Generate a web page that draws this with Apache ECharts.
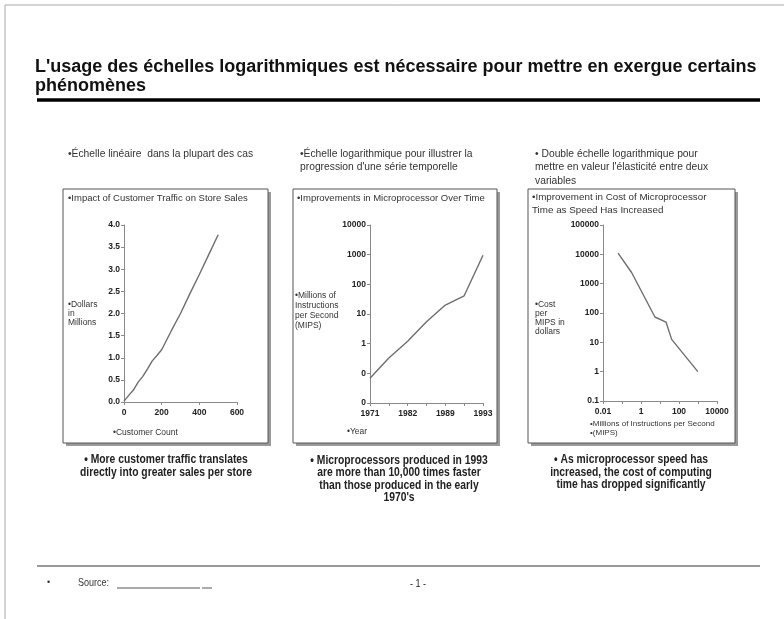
<!DOCTYPE html>
<html>
<head>
<meta charset="utf-8">
<script src="https://cdn.jsdelivr.net/npm/echarts@6/dist/echarts.min.js"></script>
<style>
html,body{margin:0;padding:0;background:#fff;}
#main{width:784px;height:619px;}
</style>
</head>
<body>
<div id="main"></div>
<script>
// ---- Data ----
// Chart 1: customer traffic vs store sales (linear)
const trafficCount = [0, 25, 50, 75, 100, 125, 150, 175, 200, 250, 300, 350, 400, 450, 500];
const salesMillions = [0.02, 0.15, 0.27, 0.45, 0.58, 0.75, 0.93, 1.05, 1.18, 1.6, 2.0, 2.45, 2.88, 3.33, 3.78];
// Chart 2: MIPS over time (log y)
const years = ['1971', '1978', '1982', '1985', '1989', '1991', '1993'];
const mips = [0.068, 0.33, 1.2, 5.5, 20, 41, 950];
// Chart 3: cost per MIPS vs MIPS (log-log)
const speedMips = [0.062, 0.32, 5.4, 20.7, 41, 980];
const costPerMips = [11000, 2400, 73, 49, 12.6, 1];

const chart1Ticks = ['0.0','0.5','1.0','1.5','2.0','2.5','3.0','3.5','4.0'];

const FONT = '"Liberation Sans", Arial, sans-serif';
const axisCol = '#8a8a8a';
const lineCol = '#6e6e6e';
const labelStyle = {fontFamily: FONT, fontWeight: 'bold', fontSize: 8.5, color: '#222'};

function txt(text, x, y, opts) {
  opts = opts || {};
  const el = {
    type: 'text', z: 20,
    style: {
      text: text, x: x, y: y,
      font: (opts.weight || 'normal') + ' ' + (opts.size || 9) + 'px ' + FONT,
      fill: opts.fill || '#333',
      textAlign: opts.align || 'left',
      textVerticalAlign: 'middle',
      lineHeight: opts.lh || 10
    }
  };
  if (opts.sx) { el.scaleX = opts.sx; el.originX = x; el.originY = y; el.origin = [x, y]; }
  return el;
}
function hline(x1, x2, y, w, c) {
  return {type: 'line', z: 1, shape: {x1: x1, y1: y, x2: x2, y2: y}, style: {stroke: c, lineWidth: w}};
}
function box(x, y, w, h) {
  return [
    {type: 'rect', z: 0, shape: {x: x + 3, y: y + 3, width: w, height: h}, style: {fill: '#9a9a9a'}},
    {type: 'rect', z: 1, shape: {x: x, y: y, width: w, height: h}, style: {fill: '#fff', stroke: '#555', lineWidth: 1}}
  ];
}

const capOpts = {size: 12, weight: 'bold', fill: '#222', align: 'center', sx: 0.86};

const graphics = [].concat(
  [
    {type: 'line', z: 1, shape: {x1: 5, y1: 5, x2: 784, y2: 5}, style: {stroke: '#aaa', lineWidth: 1}},
    {type: 'line', z: 1, shape: {x1: 5, y1: 5, x2: 5, y2: 619}, style: {stroke: '#aaa', lineWidth: 1}},
    txt("L'usage des échelles logarithmiques est nécessaire pour mettre en exergue certains\nphénomènes", 35, 77,
        {size: 18, weight: 'bold', fill: '#111', lh: 19}),
    hline(37, 760, 100, 3.5, '#000'),
    txt('•Échelle linéaire  dans la plupart des cas', 68, 154, {size: 10.3}),
    txt('•Échelle logarithmique pour illustrer la\nprogression d\'une série temporelle', 300, 160.5, {size: 10.3, lh: 13}),
    txt('• Double échelle logarithmique pour\nmettre en valeur l\'élasticité entre deux\nvariables', 535, 167.5, {size: 10.3, lh: 13.5})
  ],
  box(63, 189, 205, 254),
  box(293, 189, 204, 254),
  box(528, 189, 207, 254),
  [
    txt('•Impact of Customer Traffic on Store Sales', 68, 198, {size: 9.5}),
    txt('•Dollars\nin\nMillions', 68, 314, {size: 8.5, lh: 9}),
    txt('•Customer Count', 113, 433, {size: 8.5}),
    txt('•Improvements in Microprocessor Over Time', 297, 198, {size: 9.5}),
    txt('•Millions of\nInstructions\nper Second\n(MIPS)', 295, 311, {size: 8.5, lh: 10}),
    txt('•Year', 347, 432, {size: 8.5}),
    txt('•Improvement in Cost of Microprocessor\nTime as Speed Has Increased', 532, 204, {size: 9.8, lh: 12.5}),
    txt('•Cost\nper\nMIPS in\ndollars', 535, 318, {size: 8.5, lh: 9}),
    txt('•Millions of Instructions per Second\n•(MIPS)', 590, 428.5, {size: 8, lh: 9}),
    txt('• More customer traffic translates\ndirectly into greater sales per store', 166, 466.5, Object.assign({lh: 13}, capOpts)),
    txt('• Microprocessors produced in 1993\nare more than 10,000 times faster\nthan those produced in the early\n1970\'s', 399, 479,
        Object.assign({lh: 12.5}, capOpts)),
    txt('• As microprocessor speed has\nincreased, the cost of computing\ntime has dropped significantly', 631, 472.5,
        Object.assign({lh: 12.5}, capOpts)),
    hline(37, 760, 566, 2, '#999'),
    txt('•', 47, 583, {size: 9}),
    txt('Source:', 78, 583, {size: 10.5, sx: 0.86}),
    hline(117, 200, 588, 1, '#555'),
    hline(202, 212, 588, 1, '#555'),
    txt('- 1 -', 418, 584, {size: 10.5, align: 'center', fill: '#222', sx: 0.86})
  ]
);

function baseAxis(extra) {
  return Object.assign({
    z: 10,
    axisLine: {show: true, lineStyle: {color: axisCol, width: 1}},
    axisTick: {show: true, length: 3, lineStyle: {color: axisCol}},
    splitLine: {show: false},
    axisLabel: Object.assign({margin: 4}, labelStyle)
  }, extra);
}
function fmtNum(v) { return String(parseFloat(Number(v).toPrecision(6))); }

const option = {
  animation: false,
  backgroundColor: '#fff',
  graphic: {elements: graphics},
  grid: [
    {left: 124, top: 225, width: 113, height: 177},
    {left: 370, top: 225, width: 113, height: 178},
    {left: 603, top: 225, width: 114, height: 176}
  ],
  xAxis: [
    baseAxis({gridIndex: 0, type: 'value', min: 0, max: 600, interval: 200,
      axisLabel: Object.assign({margin: 6}, labelStyle)}),
    baseAxis({gridIndex: 1, type: 'category', data: years, boundaryGap: false,
      axisTick: {show: true, length: 3, interval: 0, lineStyle: {color: axisCol}},
      axisLabel: Object.assign({margin: 6, interval: 1}, labelStyle)}),
    baseAxis({gridIndex: 2, type: 'log', logBase: 10, min: 0.01, max: 10000,
      axisLabel: Object.assign({margin: 6, formatter: function (v) {
        const e = Math.round(Math.log10(v));
        return (e % 2 === 0) ? fmtNum(v) : '';
      }}, labelStyle)})
  ],
  yAxis: [
    baseAxis({gridIndex: 0, type: 'value', min: 0, max: 4, interval: 0.5,
      axisLabel: Object.assign({margin: 4, formatter: function (v) {
        return chart1Ticks[Math.round(v * 2)];
      }}, labelStyle)}),
    baseAxis({gridIndex: 1, type: 'log', logBase: 10, min: 0.01, max: 10000,
      axisLabel: Object.assign({margin: 4, formatter: function (v) { return String(Math.round(v)); }}, labelStyle)}),
    baseAxis({gridIndex: 2, type: 'log', logBase: 10, min: 0.1, max: 100000,
      axisLabel: Object.assign({margin: 4, formatter: fmtNum}, labelStyle)})
  ],
  series: [
    {type: 'line', z: 12, xAxisIndex: 0, yAxisIndex: 0, showSymbol: false, symbol: 'none',
     lineStyle: {color: lineCol, width: 1.4},
     data: trafficCount.map(function (x, i) { return [x, salesMillions[i]]; })},
    {type: 'line', z: 12, xAxisIndex: 1, yAxisIndex: 1, showSymbol: false, symbol: 'none',
     lineStyle: {color: lineCol, width: 1.4}, data: mips},
    {type: 'line', z: 12, xAxisIndex: 2, yAxisIndex: 2, showSymbol: false, symbol: 'none',
     lineStyle: {color: lineCol, width: 1.4},
     data: speedMips.map(function (x, i) { return [x, costPerMips[i]]; })}
  ]
};

const chart = echarts.init(document.getElementById('main'), null, {renderer: 'canvas'});
chart.setOption(option);
</script>
</body>
</html>
